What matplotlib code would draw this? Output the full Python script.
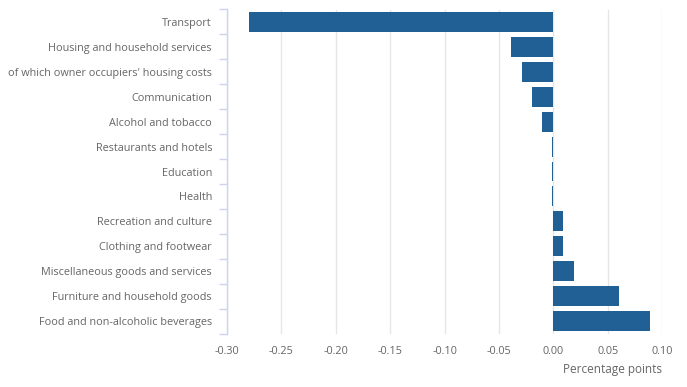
import matplotlib
matplotlib.use("Agg")
import matplotlib.pyplot as plt
import numpy as np

plt.rcParams['font.family'] = ['Open Sans', 'DejaVu Sans']

# Contributions to change, top to bottom
categories = [
    "Transport",
    "Housing and household services",
    "of which owner occupiers' housing costs",
    "Communication",
    "Alcohol and tobacco",
    "Restaurants and hotels",
    "Education",
    "Health",
    "Recreation and culture",
    "Clothing and footwear",
    "Miscellaneous goods and services",
    "Furniture and household goods",
    "Food and non-alcoholic beverages",
]
values = [-0.28, -0.039, -0.029, -0.02, -0.01, -0.001, -0.001, -0.001,
          0.009, 0.009, 0.019, 0.06, 0.089]
xticks = [-0.30, -0.25, -0.20, -0.15, -0.10, -0.05, 0.00, 0.05, 0.10]

bar_color = "#206095"
text_color = "#666666"
axis_color = "#ccd6eb"
grid_color = "#e6e6e6"

fig = plt.figure(figsize=(6.87, 3.87), dpi=100)
ax = fig.add_axes([227 / 687, 1 - 333.5 / 387, (662 - 227) / 687, (333.5 - 9.5) / 387])

y = np.arange(len(categories))
ax.barh(y, values, height=0.8, color=bar_color, zorder=3)

ax.set_ylim(len(categories) - 0.5, -0.5)
ax.set_xlim(-0.30, 0.10)

ax.set_yticks(y)
ax.set_yticklabels(categories)
ax.set_yticks(np.arange(len(categories) + 1) - 0.5, minor=True)
ax.tick_params(axis='y', which='major', length=0, pad=10.8, labelsize=7.8, labelcolor=text_color)
ax.tick_params(axis='y', which='minor', length=6, color=axis_color, width=1)

ax.set_xticks(xticks)
ax.set_xticklabels([f"{t:.2f}" for t in xticks])
ax.tick_params(axis='x', length=0, pad=9, labelsize=7.8, labelcolor=text_color)
ax.grid(axis='x', color=grid_color, linewidth=1, zorder=0)

for s in ['top', 'right', 'bottom']:
    ax.spines[s].set_visible(False)
ax.spines['left'].set_color(axis_color)
ax.spines['left'].set_linewidth(1)

fig.text(662 / 687, 1 - 370 / 387, "Percentage points", ha='right', va='center',
         fontsize=8.5, color=text_color)

fig.savefig("out.png", dpi=100)
